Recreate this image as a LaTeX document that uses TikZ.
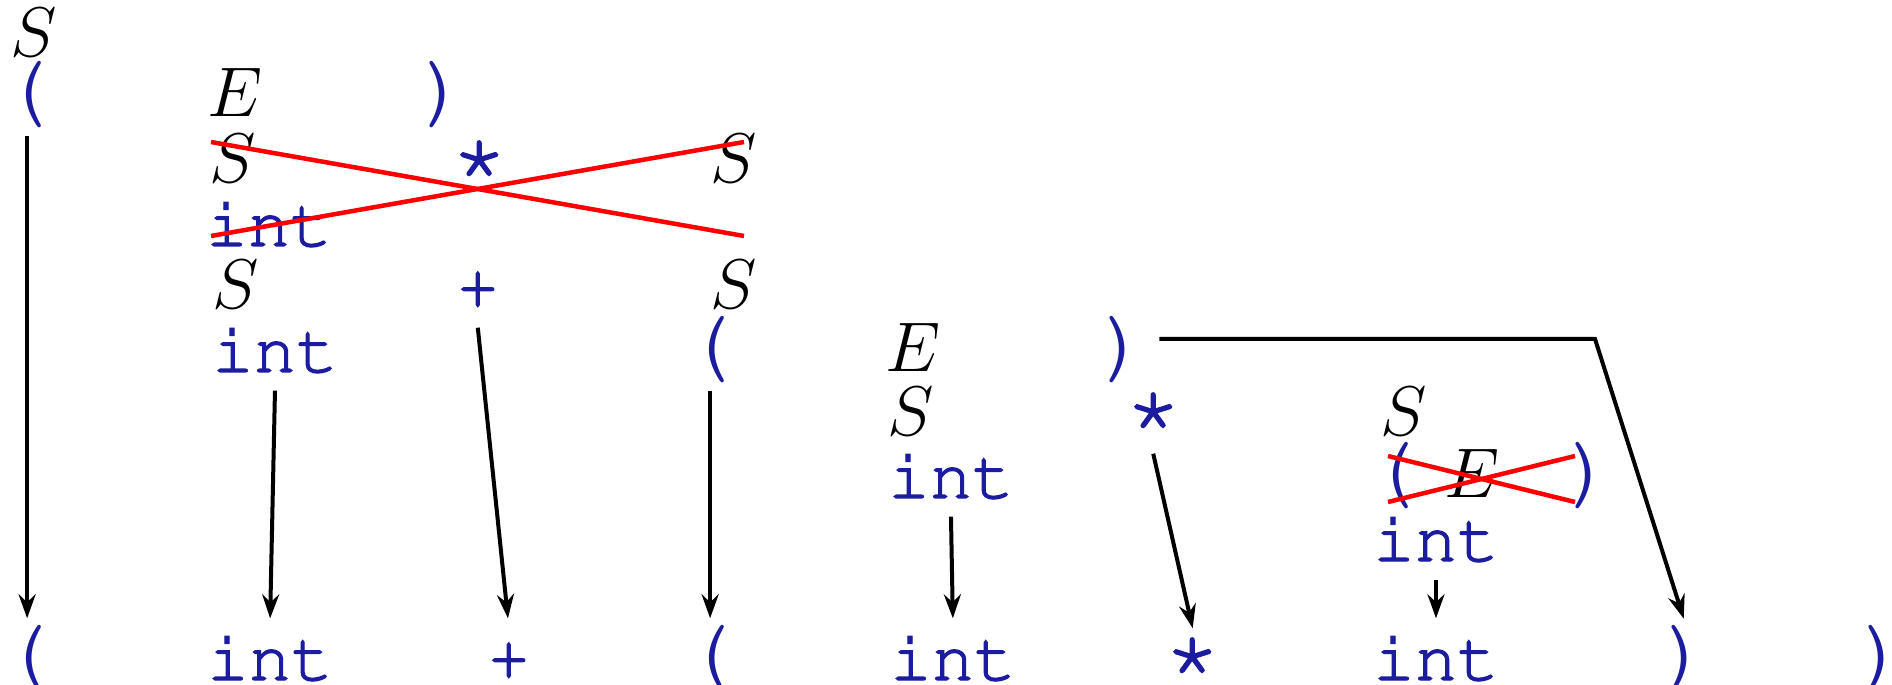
\RequirePackage{fix-cm}
\documentclass[tikz,border=0pt]{standalone}
\usepackage[T1]{fontenc}
\usepackage{fontspec}
\usepackage{tikz}
\usetikzlibrary{arrows.meta}
\definecolor{tokblue}{RGB}{28,28,160}
\newcommand{\tokfont}{\fontencoding{T1}\fontfamily{pcr}\fontsize{20}{24}\selectfont}
\newcommand{\starfont}{\fontencoding{T1}\fontfamily{pcr}\fontsize{28}{30}\selectfont}
\newcommand{\parfont}{\fontencoding{T1}\fontfamily{pcr}\fontsize{26}{30}\selectfont}
\newcommand{\fat}[1]{\special{pdf:literal direct 2 Tr 0.35 w}#1\special{pdf:literal direct 0 Tr}}
\tikzset{
  sym/.style ={anchor=base west, inner sep=0pt, text height=5.3mm, text depth=1.8mm,
               font=\fontsize{20}{24}\selectfont},
  tok/.style ={sym, text=tokblue, font=\tokfont},
  star/.style={tok, font=\starfont},
  par/.style ={tok, font=\parfont},
  arr/.style ={-{Stealth[length=2.4mm, width=1.7mm, inset=0.8mm]}, line width=0.4mm,
               shorten >=0.8mm},
  cut/.style ={red, line width=0.45mm},
}
\begin{document}
\begin{tikzpicture}
\useasboundingbox (0,0) rectangle (18.92,-6.85);

% derivation
\node[sym] (s0) at (0.10,-0.57) {$S$};

\node[par] (lp1) at (-0.01,-1.17) {(};
\node[sym] (e1)  at (2.07,-1.17) {$E$};
\node[par] (rp1) at (4.16,-1.17) {)};

\node[sym]  (s1)  at (2.09,-1.83) {$S$};
\node[star] (st1) at (4.49,-1.83) {\fat{*}};
\node[sym]  (s2)  at (7.10,-1.83) {$S$};

\node[tok] (i1)  at (2.05,-2.46) {\fat{int}};

\node[sym] (s3)  at (2.12,-3.09) {$S$};
\node[tok] (pl1) at (4.56,-3.09) {\fat{+}};
\node[sym] (s4)  at (7.10,-3.09) {$S$};

\node[tok] (i2)  at (2.11,-3.72) {\fat{int}};
\node[par] (lp2) at (6.82,-3.72) {(};
\node[sym] (e2)  at (8.85,-3.72) {$E$};
\node[par] (rp2) at (10.96,-3.72) {)};

\node[sym]  (s5)  at (8.87,-4.35) {$S$};
\node[star] (st2) at (11.23,-4.35) {\fat{*}};
\node[sym]  (s6)  at (13.80,-4.35) {$S$};

\node[tok] (i3)  at (8.87,-4.98) {\fat{int}};
\node[par] (lp3) at (13.66,-4.98) {(};
\node[sym] (e3)  at (14.44,-4.98) {$E$};
\node[par] (rp3) at (15.62,-4.98) {)};

\node[tok] (i4)  at (13.72,-5.61) {\fat{int}};

% token stream
\node[par]  (t1) at (-0.01,-6.80) {(};
\node[tok]  (t2) at (2.06,-6.80) {\fat{int}};
\node[tok]  (t3) at (4.87,-6.80) {\fat{+}};
\node[par]  (t4) at (6.82,-6.80) {(};
\node[tok]  (t5) at (8.89,-6.80) {\fat{int}};
\node[star] (t6) at (11.62,-6.80) {\fat{*}};
\node[tok]  (t7) at (13.72,-6.80) {\fat{int}};
\node[par]  (t8) at (16.58,-6.80) {)};
\node[par]  (t9) at (18.55,-6.80) {)};

\coordinate (knee) at (15.95,-3.39);

\draw[arr] (lp1.south) -- (t1.north);
\draw[arr] (i2.south) -- (t2.north);
\draw[arr] (pl1.south) -- (t3.north);
\draw[arr] (lp2.south) -- (t4.north);
\draw[arr] (i3.south) -- (t5.north);
\draw[arr, shorten >=-0.2mm] (st2.south) -- (t6.north);
\draw[arr] (i4.south) -- (t7.north);
\draw[arr, shorten <=0.7mm] (rp2.east |- knee) -- (knee) -- (t8.north);

\coordinate (xa) at (2.11,-1.42);
\coordinate (xb) at (7.44,-2.36);
\coordinate (xc) at (2.11,-2.36);
\coordinate (xd) at (7.44,-1.42);
\draw[cut] (xa) -- (xb);
\draw[cut] (xc) -- (xd);

\coordinate (ya) at (13.88,-4.56);
\coordinate (yb) at (15.75,-5.02);
\coordinate (yc) at (13.88,-5.02);
\coordinate (yd) at (15.75,-4.56);
\draw[cut] (ya) -- (yb);
\draw[cut] (yc) -- (yd);

\end{tikzpicture}
\end{document}
